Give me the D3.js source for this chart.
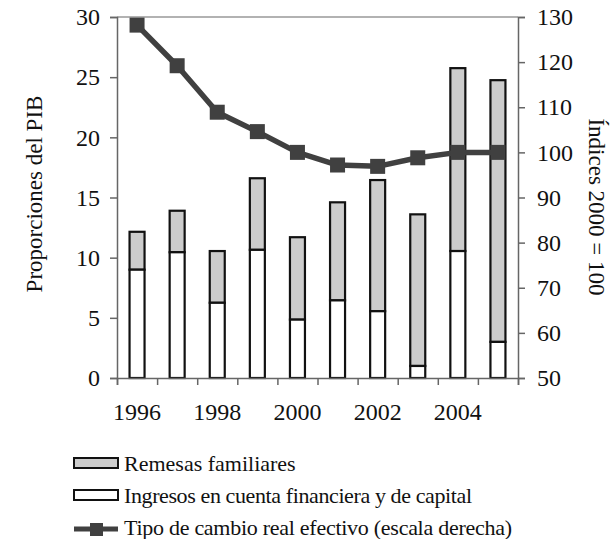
<!DOCTYPE html>
<html>
<head>
<meta charset="utf-8">
<script src="https://cdn.jsdelivr.net/npm/d3@7"></script>
</head>
<body style="margin:0; background:#fff">
<svg id="chart" width="616" height="539"></svg>
<script>
// data
var years = [1996, 1997, 1998, 1999, 2000, 2001, 2002, 2003, 2004, 2005];
var ingresos = [9.0, 10.45, 6.25, 10.65, 4.85, 6.45, 5.55, 1.0, 10.55, 3.0];
var remesasTotal = [12.15, 13.9, 10.55, 16.6, 11.7, 14.6, 16.45, 13.6, 25.75, 24.75];
var tipoCambio = [128.2, 119.2, 108.9, 104.6, 100.0, 97.2, 96.9, 98.8, 100.0, 100.0];
var leftTicks = [0, 5, 10, 15, 20, 25, 30];
var rightTicks = [50, 60, 70, 80, 90, 100, 110, 120, 130];
var yearLabels = [1996, 1998, 2000, 2002, 2004];

var serif = "Liberation Serif";
var svg = d3.select("#chart");
var pLeft = 117, pRight = 518, pTop = 17, pBottom = 378;

var x = d3.scaleBand().domain(years).range([pLeft, pRight]).padding(0);
var xEdge = d3.scaleLinear().domain([0, years.length]).range([pLeft, pRight]);
var y = d3.scaleLinear().domain([0, 30]).range([pBottom, pTop]);
var y2 = d3.scaleLinear().domain([50, 130]).range([pBottom, pTop]);

var barW = 15;
var cx = function (d) { return x(d) + x.bandwidth() / 2; };

// top border
svg.append("line")
  .attr("x1", pLeft).attr("x2", pRight)
  .attr("y1", pTop).attr("y2", pTop)
  .attr("stroke", "#999").attr("stroke-width", 1.5);

// remesas (stacked on top of ingresos)
svg.selectAll(".rem")
  .data(years)
  .enter()
  .append("rect")
  .attr("x", function (d) { return cx(d) - barW / 2; })
  .attr("y", function (d, i) { return y(remesasTotal[i]); })
  .attr("width", barW)
  .attr("height", function (d, i) { return y(ingresos[i]) - y(remesasTotal[i]); })
  .attr("fill", "#cccccc")
  .attr("stroke", "#111")
  .attr("stroke-width", 2.2);

svg.selectAll(".ing")
  .data(years)
  .enter()
  .append("rect")
  .attr("x", function (d) { return cx(d) - barW / 2; })
  .attr("y", function (d, i) { return y(ingresos[i]); })
  .attr("width", barW)
  .attr("height", function (d, i) { return y(0) - y(ingresos[i]); })
  .attr("fill", "#fff")
  .attr("stroke", "#111")
  .attr("stroke-width", 2.2);

// axes
var axL = svg.append("g")
  .attr("transform", "translate(" + pLeft + ",0)")
  .call(d3.axisLeft(y).tickValues(leftTicks).tickSize(7).tickPadding(10));
var axR = svg.append("g")
  .attr("transform", "translate(" + pRight + ",0)")
  .call(d3.axisRight(y2).tickValues(rightTicks).tickSize(7).tickPadding(12));
var axB = svg.append("g")
  .attr("transform", "translate(0," + pBottom + ")")
  .call(d3.axisBottom(xEdge).ticks(years.length).tickFormat("").tickSize(7));

[axL, axR, axB].forEach(function (g) {
  g.select(".domain").attr("stroke", "#666").attr("stroke-width", 1.5);
  g.selectAll(".tick line").attr("stroke", "#666").attr("stroke-width", 1.5);
  g.selectAll(".tick text")
    .style("font-size", "24px")
    .attr("fill", "#111");
});

svg.selectAll(".yr")
  .data(yearLabels)
  .enter()
  .append("text")
  .attr("x", function (d) { return cx(d); })
  .attr("y", 420)
  .attr("text-anchor", "middle")
  .style("font-size", "24px")
  .text(function (d) { return d; });

// tipo de cambio line
var line = d3.line()
  .x(function (d, i) { return cx(years[i]); })
  .y(function (d) { return y2(d); });

svg.append("path")
  .datum(tipoCambio)
  .attr("d", line)
  .attr("fill", "none")
  .attr("stroke", "#404040")
  .attr("stroke-width", 5.5)
  .attr("stroke-linejoin", "round");

var mk = 15;
svg.selectAll(".mk")
  .data(tipoCambio)
  .enter()
  .append("rect")
  .attr("x", function (d, i) { return cx(years[i]) - mk / 2; })
  .attr("y", function (d) { return y2(d) - mk / 2; })
  .attr("width", mk)
  .attr("height", mk)
  .attr("fill", "#404040");

// axis titles
svg.append("text")
  .attr("transform", "translate(42,194) rotate(-90)")
  .attr("text-anchor", "middle")
  .style("font-size", "23px")
  .text("Proporciones del PIB");

svg.append("text")
  .attr("transform", "translate(589,207) rotate(90)")
  .attr("text-anchor", "middle")
  .style("font-size", "23px")
  .text("Índices 2000 = 100");

// legend
var lg = svg.append("g");
lg.append("rect").attr("x", 74).attr("y", 458).attr("width", 44).attr("height", 10)
  .attr("fill", "#cccccc").attr("stroke", "#111").attr("stroke-width", 2);
lg.append("text").attr("x", 124).attr("y", 471).style("font-size", "22px")
  .text("Remesas familiares");

lg.append("rect").attr("x", 74).attr("y", 490).attr("width", 44).attr("height", 10)
  .attr("fill", "#fff").attr("stroke", "#111").attr("stroke-width", 2);
lg.append("text").attr("x", 124).attr("y", 503).style("font-size", "22px")
  .attr("textLength", 348).attr("lengthAdjust", "spacing")
  .text("Ingresos en cuenta financiera y de capital");

lg.append("line").attr("x1", 74).attr("x2", 118).attr("y1", 529).attr("y2", 529)
  .attr("stroke", "#404040").attr("stroke-width", 5);
lg.append("rect").attr("x", 90).attr("y", 523).attr("width", 13).attr("height", 13)
  .attr("fill", "#404040");
lg.append("text").attr("x", 124).attr("y", 535).style("font-size", "22px")
  .attr("textLength", 388).attr("lengthAdjust", "spacing")
  .text("Tipo de cambio real efectivo (escala derecha)");

// serif everywhere, set inline
svg.selectAll("text").style("font-family", serif).attr("fill", "#111");
</script>
</body>
</html>
